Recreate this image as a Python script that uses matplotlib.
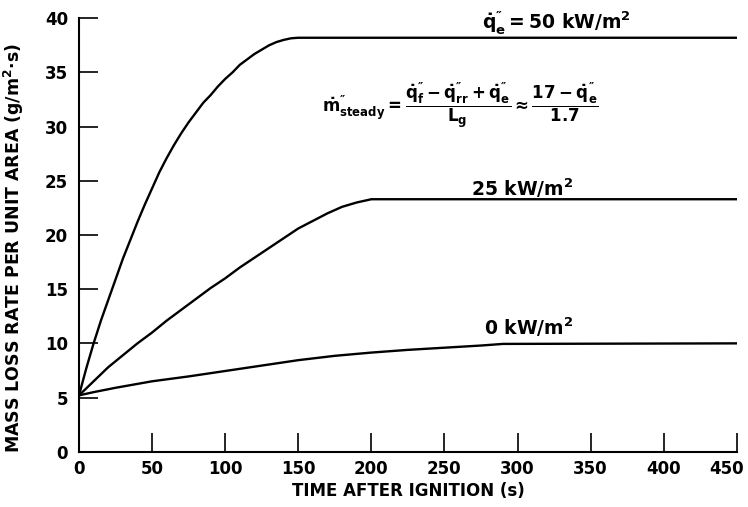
import numpy as np
import matplotlib
matplotlib.use("Agg")
import matplotlib.pyplot as plt
import matplotlib.transforms as mtransforms

plt.rcParams["font.family"] = ["DejaVu Sans"]
plt.rcParams["font.weight"] = "bold"
plt.rcParams["mathtext.fontset"] = "custom"
plt.rcParams["mathtext.rm"] = "DejaVu Sans:bold"
plt.rcParams["mathtext.it"] = "DejaVu Sans:bold"
plt.rcParams["mathtext.bf"] = "DejaVu Sans:bold"
plt.rcParams["mathtext.sf"] = "DejaVu Sans:bold"

# data (time in s, mass loss rate in g/m2.s)
t_50 = [0, 5, 10, 15, 20, 25, 30, 35, 40, 45, 50, 55, 60, 65, 70, 75, 80, 85,
        90, 95, 100, 105, 110, 115, 120, 125, 130, 135, 140, 145, 150, 450]
m_50 = [5.2, 7.7, 10.0, 12.1, 14.0, 15.9, 17.8, 19.5, 21.2, 22.8, 24.3, 25.8,
        27.1, 28.3, 29.4, 30.4, 31.3, 32.2, 32.9, 33.7, 34.4, 35.0, 35.7, 36.2,
        36.7, 37.1, 37.5, 37.8, 38.0, 38.15, 38.2, 38.2]

t_25 = [0, 10, 20, 30, 40, 50, 60, 70, 80, 90, 100, 110, 120, 130, 140, 150,
        160, 170, 180, 190, 200, 450]
m_25 = [5.2, 6.5, 7.8, 8.9, 10.0, 11.0, 12.1, 13.1, 14.1, 15.1, 16.0, 17.0,
        17.9, 18.8, 19.7, 20.6, 21.3, 22.0, 22.6, 23.0, 23.3, 23.3]

t_0 = [0, 10, 25, 50, 75, 100, 125, 150, 175, 200, 225, 250, 275, 290, 450]
m_0 = [5.2, 5.5, 5.9, 6.5, 6.95, 7.45, 7.95, 8.45, 8.85, 9.15, 9.4, 9.6, 9.8,
       9.95, 10.0]

xticks = np.arange(0, 451, 50)
yticks = np.arange(0, 41, 5)

fig = plt.figure(figsize=(7.48, 5.07), dpi=100)
ax = fig.add_axes([0.1056, 0.109, 0.8794, 0.855])

for t, m in [(t_50, m_50), (t_25, m_25), (t_0, m_0)]:
    ax.plot(t, m, color="black", linewidth=1.7, solid_joinstyle="round")

ax.set_xlim(0, 450)
ax.set_ylim(0, 40)
ax.set_xticks(xticks)
ax.set_yticks(yticks)
ax.spines["top"].set_visible(False)
ax.spines["right"].set_visible(False)
for s in ["left", "bottom"]:
    ax.spines[s].set_linewidth(1.5)
ax.tick_params(direction="in", length=14, width=1.2, labelsize=12, pad=6)
ax.tick_params(axis="y", pad=8)

# last x tick label sits pulled in from the right edge
last = ax.get_xticklabels()[-1]
last.set_transform(last.get_transform() + mtransforms.ScaledTranslation(-10 / 100, 0, fig.dpi_scale_trans))

ax.set_xlabel("TIME AFTER IGNITION (s)", fontsize=12, fontweight="bold", labelpad=3)
ax.set_ylabel("MASS LOSS RATE PER UNIT AREA (g/m$^2$·s)", fontsize=12.5,
              fontweight="bold")
ax.yaxis.set_label_coords(-0.08, 0.47)

ax.text(276, 39.1, r"$\dot{q}^{″}_e = 50\ \mathrm{kW/m^2}$",
        fontsize=13.5, ha="left", va="baseline")
ax.text(268, 23.6, r"25 kW/m$^2$", fontsize=13.5, ha="left", va="baseline")
ax.text(277, 10.75, r"0 kW/m$^2$", fontsize=13.5, ha="left", va="baseline")

ax.text(166, 32.0,
        r"$\dot{m}^{″}_{steady} = "
        r"\dfrac{\dot{q}^{″}_f - \dot{q}^{″}_{rr} + \dot{q}^{″}_e}{L_g}"
        r" \approx \dfrac{17 - \dot{q}^{″}_e}{1.7}$",
        fontsize=12, ha="left", va="center")

fig.savefig("out.png", dpi=100)
